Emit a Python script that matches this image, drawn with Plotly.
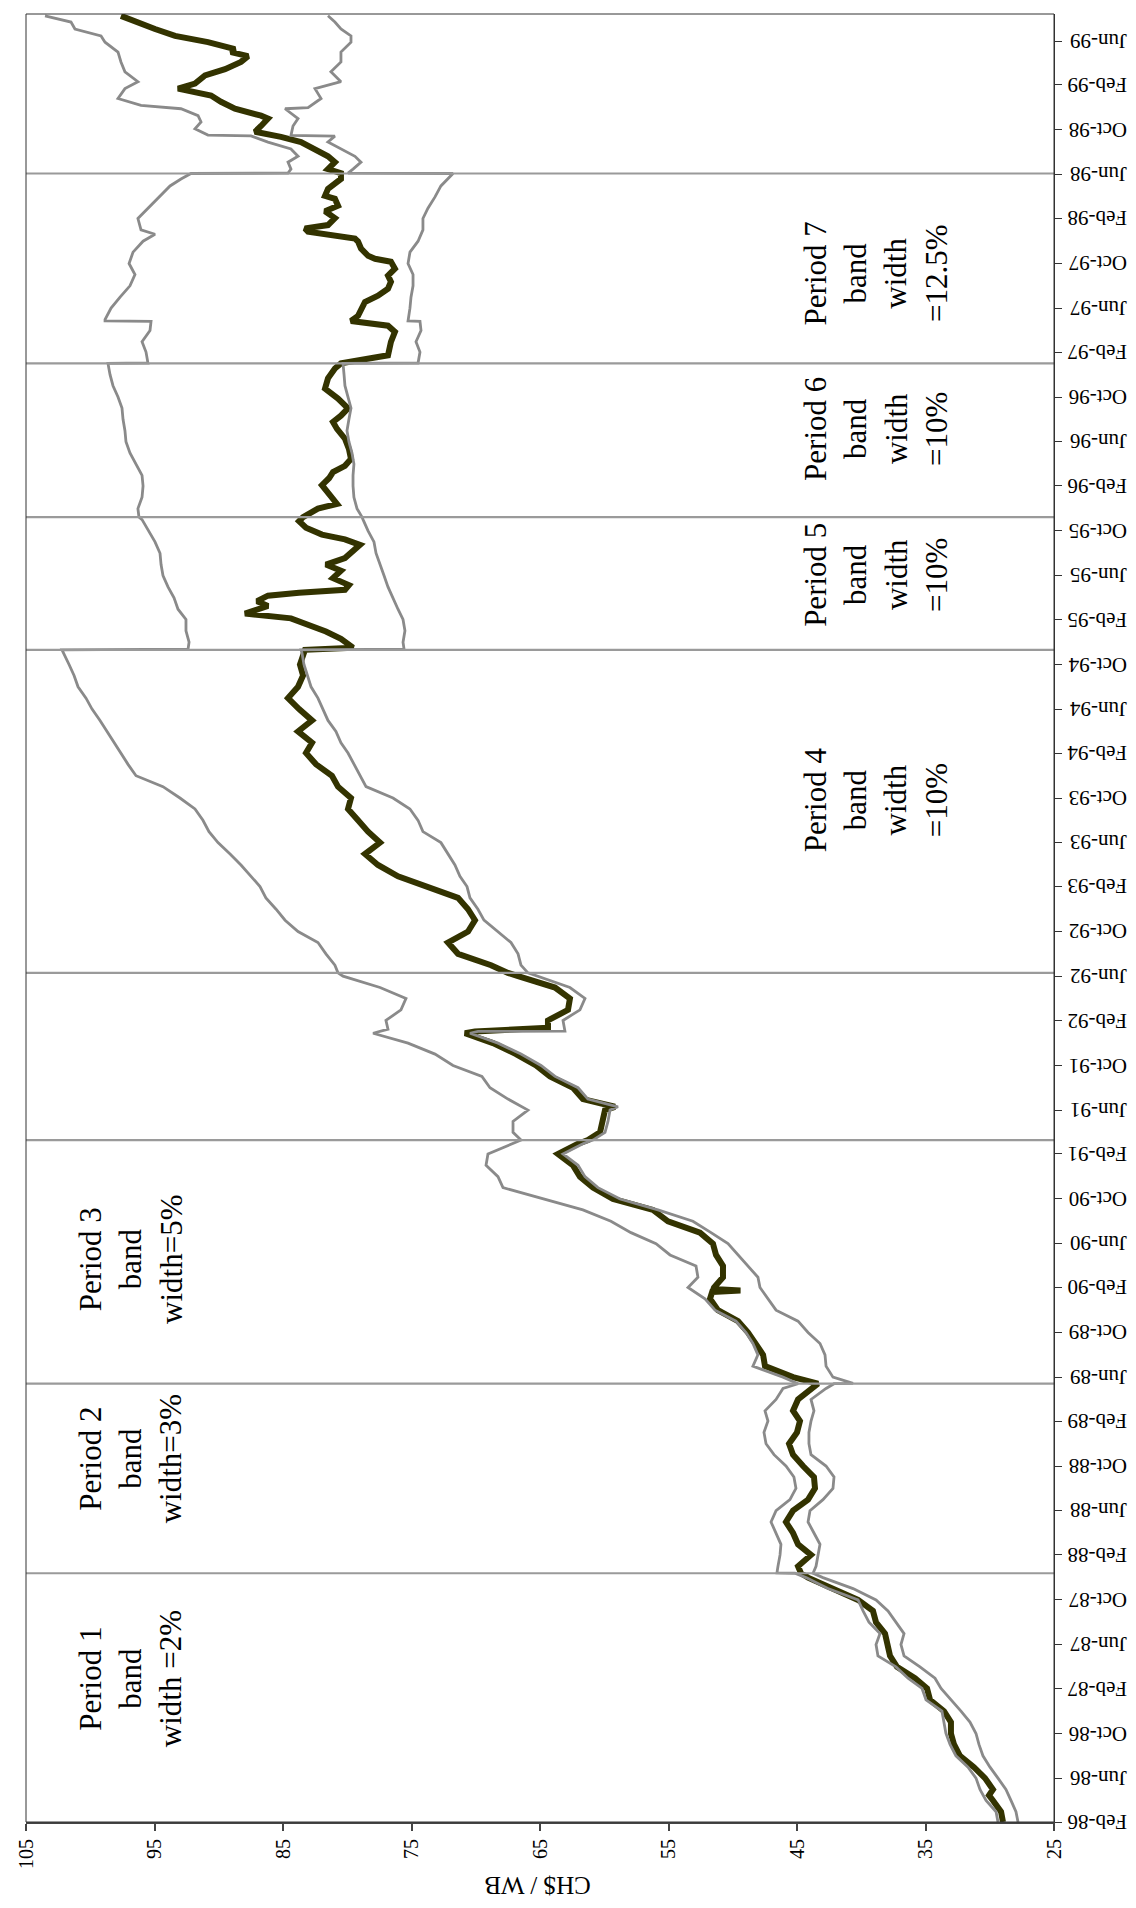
import pandas as pd
import plotly.graph_objects as go

# ---------------- data ----------------
# observed exchange rate (thick dark line): (date, CH$/WB)
center = [
    ("1986-02-01", 28.97), ("1986-03-01", 29.12), ("1986-04-01", 29.75), ("1986-04-15", 30.06),
    ("1986-05-01", 29.75), ("1986-06-01", 30.37), ("1986-07-01", 31.23), ("1986-08-01", 32.32),
    ("1986-09-01", 32.78), ("1986-10-01", 33.02), ("1986-11-01", 33.02), ("1986-12-01", 33.56),
    ("1987-01-01", 34.65), ("1987-02-01", 34.88), ("1987-03-01", 35.82), ("1987-04-01", 37.22),
    ("1987-05-01", 37.76), ("1987-06-01", 37.92), ("1987-07-01", 38.15), ("1987-08-01", 38.85),
    ("1987-09-01", 39.09), ("1987-10-01", 40.25), ("1987-11-01", 42.35), ("1987-12-01", 44.14),
    ("1987-12-13", 44.69), ("1988-01-01", 44.92), ("1988-02-01", 43.91), ("1988-03-01", 44.92),
    ("1988-04-01", 45.31), ("1988-05-01", 45.86), ("1988-06-01", 45.31), ("1988-07-01", 44.14),
    ("1988-08-01", 43.60), ("1988-09-01", 43.68), ("1988-10-01", 44.53), ("1988-11-01", 45.31),
    ("1988-12-01", 45.62), ("1989-01-01", 45.00), ("1989-02-01", 44.77), ("1989-03-01", 45.31),
    ("1989-04-01", 44.92), ("1989-05-01", 43.91), ("1989-05-14", 43.37), ("1989-06-01", 45.31),
    ("1989-07-01", 47.49), ("1989-08-01", 47.64), ("1989-09-01", 48.19), ("1989-10-01", 48.81),
    ("1989-11-01", 49.59), ("1989-12-01", 51.15), ("1990-01-01", 51.77), ("1990-01-20", 51.60),
    ("1990-01-24", 49.40), ("1990-01-28", 51.50), ("1990-02-01", 51.46), ("1990-03-01", 50.76),
    ("1990-04-01", 50.76), ("1990-05-01", 51.30), ("1990-06-01", 51.54), ("1990-07-01", 52.55),
    ("1990-08-01", 55.04), ("1990-09-01", 56.21), ("1990-10-01", 59.32), ("1990-11-01", 60.88),
    ("1990-12-01", 61.89), ("1991-01-01", 62.43), ("1991-02-01", 63.60), ("1991-03-01", 62.04),
    ("1991-03-11", 61.27), ("1991-04-01", 60.33), ("1991-05-01", 60.10), ("1991-06-01", 59.94),
    ("1991-06-10", 59.17), ("1991-07-01", 61.66), ("1991-08-01", 62.43), ("1991-09-01", 64.22),
    ("1991-10-01", 65.31), ("1991-11-01", 66.87), ("1991-12-01", 68.66), ("1991-12-28", 70.84),
    ("1992-01-02", 70.06), ("1992-01-06", 66.48), ("1992-01-12", 64.38), ("1992-02-01", 64.38),
    ("1992-03-01", 62.82), ("1992-04-01", 62.67), ("1992-05-01", 63.83), ("1992-06-01", 66.71),
    ("1992-06-10", 67.49), ("1992-07-01", 68.81), ("1992-08-01", 71.38), ("1992-09-01", 72.16),
    ("1992-10-01", 70.60), ("1992-11-01", 70.06), ("1992-12-01", 70.60), ("1993-01-01", 71.38),
    ("1993-02-01", 73.72), ("1993-03-01", 76.05), ("1993-04-01", 77.61), ("1993-05-01", 78.62),
    ("1993-06-01", 77.45), ("1993-07-01", 78.38), ("1993-08-01", 79.16), ("1993-09-01", 79.94),
    ("1993-10-01", 79.71), ("1993-11-01", 80.72), ("1993-12-01", 81.19), ("1994-01-01", 82.43),
    ("1994-02-01", 83.21), ("1994-03-01", 82.74), ("1994-04-01", 83.83), ("1994-05-01", 82.74),
    ("1994-06-01", 83.75), ("1994-07-01", 84.61), ("1994-08-01", 83.83), ("1994-09-01", 83.44),
    ("1994-10-01", 83.68), ("1994-11-01", 83.37), ("1994-11-10", 83.29), ("1994-11-16", 79.55),
    ("1994-12-10", 80.49), ("1994-12-30", 81.66), ("1995-01-16", 82.90), ("1995-02-04", 84.38),
    ("1995-02-17", 87.96), ("1995-03-01", 86.71), ("1995-03-10", 86.17), ("1995-03-23", 87.02),
    ("1995-04-07", 86.17), ("1995-04-15", 83.75), ("1995-04-23", 80.18), ("1995-05-06", 79.87),
    ("1995-05-25", 81.11), ("1995-06-14", 80.49), ("1995-07-01", 81.66), ("1995-07-19", 80.18),
    ("1995-08-07", 79.63), ("1995-08-24", 79.01), ("1995-09-08", 80.18), ("1995-09-21", 81.97),
    ("1995-10-10", 83.21), ("1995-10-28", 83.75), ("1995-11-08", 83.44), ("1995-12-01", 82.28),
    ("1995-12-14", 80.80), ("1995-12-28", 81.11), ("1996-01-16", 81.66), ("1996-02-03", 81.97),
    ("1996-02-22", 81.42), ("1996-03-10", 81.11), ("1996-03-27", 80.18), ("1996-04-15", 79.71),
    ("1996-05-12", 79.87), ("1996-06-09", 80.18), ("1996-07-06", 80.80), ("1996-07-25", 81.11),
    ("1996-08-11", 80.49), ("1996-08-31", 79.94), ("1996-09-27", 80.72), ("1996-10-24", 81.73),
    ("1996-11-21", 81.50), ("1996-12-18", 80.96), ("1997-01-01", 80.49), ("1997-01-15", 78.38),
    ("1997-01-23", 76.83), ("1997-03-01", 76.60), ("1997-03-28", 76.29), ("1997-04-14", 76.83),
    ("1997-04-27", 79.71), ("1997-05-11", 79.16), ("1997-05-30", 78.93), ("1997-06-18", 78.62),
    ("1997-07-05", 77.61), ("1997-07-24", 76.83), ("1997-08-12", 76.60), ("1997-08-29", 76.83),
    ("1997-09-17", 76.29), ("1997-10-06", 76.60), ("1997-10-14", 77.84), ("1997-10-22", 78.38),
    ("1997-11-11", 78.93), ("1997-11-30", 79.16), ("1997-12-08", 79.40), ("1997-12-27", 83.05),
    ("1998-01-05", 83.29), ("1998-01-14", 81.50), ("1998-02-02", 80.96), ("1998-02-21", 81.73),
    ("1998-03-08", 80.72), ("1998-03-27", 80.96), ("1998-04-04", 81.73), ("1998-04-23", 81.50),
    ("1998-05-20", 80.49), ("1998-06-05", 80.49), ("1998-06-16", 81.50), ("1998-07-05", 80.96),
    ("1998-07-21", 81.50), ("1998-08-10", 82.51), ("1998-08-29", 83.60), ("1998-09-12", 85.16),
    ("1998-09-26", 87.18), ("1998-10-12", 86.71), ("1998-11-01", 86.17), ("1998-11-09", 86.71),
    ("1998-11-28", 88.74), ("1998-12-17", 89.83), ("1999-01-03", 90.60), ("1999-01-22", 93.17),
    ("1999-02-05", 91.85), ("1999-02-27", 91.07), ("1999-03-16", 89.51), ("1999-04-05", 88.27),
    ("1999-04-21", 87.72), ("1999-05-02", 89.05), ("1999-05-10", 88.74), ("1999-05-29", 90.84),
    ("1999-06-15", 93.40), ("1999-07-04", 94.96), ("1999-07-23", 96.52), ("1999-08-09", 97.61),
]

# band ceiling (grey line, higher CH$/WB)
upper = [
    ("1986-02-01", 29.36), ("1986-03-01", 29.51), ("1986-04-01", 30.29), ("1986-05-01", 30.76),
    ("1986-06-01", 31.07), ("1986-07-01", 31.69), ("1986-08-01", 32.63), ("1986-09-01", 33.09),
    ("1986-10-01", 33.41), ("1986-11-01", 33.56), ("1986-12-01", 33.72), ("1987-01-01", 34.96),
    ("1987-02-01", 35.27), ("1987-03-01", 36.36), ("1987-04-01", 37.30), ("1987-05-01", 38.70),
    ("1987-06-01", 38.85), ("1987-07-01", 38.54), ("1987-08-01", 39.40), ("1987-09-01", 39.86),
    ("1987-10-01", 40.25), ("1987-11-01", 42.59), ("1987-12-01", 44.30), ("1987-12-13", 45.16),
    ("1987-12-14", 46.56), ("1988-01-01", 46.48), ("1988-02-01", 46.32), ("1988-03-01", 46.25),
    ("1988-04-01", 46.63), ("1988-05-01", 47.02), ("1988-06-01", 46.63), ("1988-07-01", 45.55),
    ("1988-08-01", 45.08), ("1988-09-01", 45.24), ("1988-10-01", 45.86), ("1988-11-01", 46.79),
    ("1988-12-01", 47.41), ("1989-01-01", 47.57), ("1989-02-01", 47.26), ("1989-03-01", 47.49),
    ("1989-04-01", 46.63), ("1989-05-01", 46.09), ("1989-05-14", 44.92), ("1989-06-01", 46.09),
    ("1989-07-01", 48.43), ("1989-08-01", 48.04), ("1989-09-01", 48.43), ("1989-10-01", 48.97),
    ("1989-11-01", 49.75), ("1989-12-01", 51.38), ("1990-01-01", 52.16), ("1990-02-01", 53.48),
    ("1990-03-01", 52.71), ("1990-04-01", 52.86), ("1990-05-01", 54.88), ("1990-06-01", 55.97),
    ("1990-07-01", 57.92), ("1990-08-01", 59.48), ("1990-09-01", 61.66), ("1990-10-01", 64.77),
    ("1990-11-01", 67.88), ("1990-12-01", 68.27), ("1991-01-01", 69.20), ("1991-02-01", 69.05),
    ("1991-03-01", 67.10), ("1991-03-11", 66.48), ("1991-04-01", 67.10), ("1991-05-01", 67.10),
    ("1991-06-01", 65.94), ("1991-07-01", 67.49), ("1991-08-01", 68.89), ("1991-09-01", 69.52),
    ("1991-10-01", 71.77), ("1991-11-01", 73.17), ("1991-12-01", 75.27), ("1991-12-28", 77.99),
    ("1992-01-08", 76.83), ("1992-02-01", 76.99), ("1992-03-01", 75.82), ("1992-04-01", 75.43),
    ("1992-05-01", 77.45), ("1992-06-01", 80.33), ("1992-06-10", 80.72), ("1992-07-01", 80.96),
    ("1992-08-01", 81.66), ("1992-09-01", 82.28), ("1992-10-01", 83.83), ("1992-11-01", 84.84),
    ("1992-12-01", 85.54), ("1993-01-01", 86.33), ("1993-02-01", 86.79), ("1993-03-01", 87.49),
    ("1993-04-01", 88.27), ("1993-05-01", 89.12), ("1993-06-01", 90.06), ("1993-07-01", 90.76),
    ("1993-08-01", 91.23), ("1993-09-01", 91.85), ("1993-10-01", 93.02), ("1993-11-01", 94.34),
    ("1993-12-01", 96.44), ("1994-01-01", 97.06), ("1994-02-01", 97.61), ("1994-03-01", 98.15),
    ("1994-04-01", 98.70), ("1994-05-01", 99.24), ("1994-06-01", 99.86), ("1994-07-01", 100.33),
    ("1994-08-01", 100.95), ("1994-09-01", 101.26), ("1994-10-01", 101.65), ("1994-11-01", 102.12),
    ("1994-11-10", 102.20), ("1994-11-12", 92.39), ("1994-12-01", 92.31), ("1995-01-01", 92.55),
    ("1995-02-01", 92.55), ("1995-03-01", 93.17), ("1995-04-01", 93.48), ("1995-05-01", 93.95),
    ("1995-06-01", 94.34), ("1995-07-01", 94.49), ("1995-08-01", 94.57), ("1995-09-01", 94.96),
    ("1995-10-01", 95.43), ("1995-11-01", 95.97), ("1995-11-08", 96.21), ("1995-12-01", 96.29),
    ("1996-01-01", 95.97), ("1996-02-01", 95.89), ("1996-03-01", 95.97), ("1996-04-01", 96.44),
    ("1996-05-01", 96.91), ("1996-06-01", 97.22), ("1996-07-01", 97.30), ("1996-08-01", 97.45),
    ("1996-09-01", 97.53), ("1996-10-01", 97.84), ("1996-11-01", 98.23), ("1996-12-01", 98.46),
    ("1997-01-01", 98.62), ("1997-01-02", 95.51), ("1997-02-01", 95.66), ("1997-03-01", 95.97),
    ("1997-04-01", 95.35), ("1997-04-26", 95.27), ("1997-04-27", 98.85), ("1997-05-01", 98.85),
    ("1997-06-01", 98.38), ("1997-07-01", 97.68), ("1997-08-01", 96.91), ("1997-09-01", 96.52),
    ("1997-10-01", 96.98), ("1997-11-01", 96.67), ("1997-12-01", 95.89), ("1997-12-20", 94.96),
    ("1998-01-01", 96.05), ("1998-02-01", 96.29), ("1998-03-01", 95.51), ("1998-04-01", 94.57),
    ("1998-05-01", 93.79), ("1998-05-20", 92.94), ("1998-06-04", 92.16), ("1998-06-05", 84.61),
    ("1998-06-16", 84.38), ("1998-07-05", 84.61), ("1998-07-21", 83.83), ("1998-08-10", 84.38),
    ("1998-08-29", 86.17), ("1998-09-15", 87.49), ("1998-09-17", 90.84), ("1998-10-04", 91.85),
    ("1998-10-23", 91.38), ("1998-11-09", 91.61), ("1998-11-28", 92.94), ("1998-12-07", 96.05),
    ("1998-12-26", 97.84), ("1999-01-22", 97.30), ("1999-02-10", 96.29), ("1999-03-09", 97.30),
    ("1999-04-05", 97.61), ("1999-05-02", 97.84), ("1999-05-29", 98.85), ("1999-06-15", 99.16),
    ("1999-07-04", 101.19), ("1999-07-23", 101.50), ("1999-08-09", 103.52),
]

# band floor (grey line, lower CH$/WB)
lower = [
    ("1986-02-01", 27.80), ("1986-03-01", 27.96), ("1986-04-01", 28.35), ("1986-05-01", 28.74),
    ("1986-06-01", 29.36), ("1986-07-01", 29.98), ("1986-08-01", 30.53), ("1986-09-01", 30.84),
    ("1986-10-01", 31.07), ("1986-11-01", 31.54), ("1986-12-01", 32.24), ("1987-01-01", 33.02),
    ("1987-02-01", 33.79), ("1987-03-01", 34.26), ("1987-04-01", 35.43), ("1987-05-01", 36.67),
    ("1987-06-01", 36.91), ("1987-07-01", 36.67), ("1987-08-01", 37.30), ("1987-09-01", 37.92),
    ("1987-10-01", 38.85), ("1987-11-01", 40.64), ("1987-12-01", 42.98), ("1987-12-13", 43.75),
    ("1988-01-01", 43.52), ("1988-02-01", 43.37), ("1988-03-01", 43.21), ("1988-04-01", 43.68),
    ("1988-05-01", 44.14), ("1988-06-01", 43.99), ("1988-07-01", 42.98), ("1988-08-01", 42.20),
    ("1988-09-01", 42.12), ("1988-10-01", 42.74), ("1988-11-01", 43.91), ("1988-12-01", 44.07),
    ("1989-01-01", 44.07), ("1989-02-01", 43.91), ("1989-03-01", 43.68), ("1989-04-01", 43.91),
    ("1989-05-01", 42.74), ("1989-05-14", 42.12), ("1989-05-15", 40.64), ("1989-06-01", 42.20),
    ("1989-07-01", 42.74), ("1989-08-01", 42.82), ("1989-09-01", 43.21), ("1989-10-01", 44.14),
    ("1989-11-01", 44.92), ("1989-12-01", 46.63), ("1990-01-01", 47.26), ("1990-02-01", 47.88),
    ("1990-03-01", 48.04), ("1990-04-01", 48.81), ("1990-05-01", 49.59), ("1990-06-01", 50.37),
    ("1990-07-01", 51.69), ("1990-08-01", 53.10), ("1990-09-01", 55.82), ("1990-10-01", 58.77),
    ("1990-11-01", 60.49), ("1990-12-01", 61.50), ("1991-01-01", 62.04), ("1991-02-01", 63.21),
    ("1991-03-01", 61.66), ("1991-03-11", 60.88), ("1991-04-01", 59.94), ("1991-05-01", 59.71),
    ("1991-06-01", 59.55), ("1991-06-10", 58.93), ("1991-07-01", 61.27), ("1991-08-01", 62.04),
    ("1991-09-01", 63.83), ("1991-10-01", 64.92), ("1991-11-01", 66.48), ("1991-12-01", 68.27),
    ("1991-12-28", 70.45), ("1992-01-02", 69.83), ("1992-01-03", 63.06), ("1992-02-01", 63.21),
    ("1992-03-01", 61.89), ("1992-04-01", 61.50), ("1992-05-01", 62.67), ("1992-06-01", 65.31),
    ("1992-06-10", 65.94), ("1992-07-01", 66.48), ("1992-08-01", 66.71), ("1992-09-01", 67.26),
    ("1992-10-01", 68.27), ("1992-11-01", 69.36), ("1992-12-01", 69.83), ("1993-01-01", 70.45),
    ("1993-02-01", 70.68), ("1993-03-01", 71.23), ("1993-04-01", 71.62), ("1993-05-01", 72.16),
    ("1993-06-01", 72.71), ("1993-07-01", 74.11), ("1993-08-01", 74.49), ("1993-09-01", 75.12),
    ("1993-10-01", 76.44), ("1993-11-01", 78.54), ("1993-12-01", 79.01), ("1994-01-01", 79.48),
    ("1994-02-01", 79.94), ("1994-03-01", 80.49), ("1994-04-01", 80.88), ("1994-05-01", 81.50),
    ("1994-06-01", 81.89), ("1994-07-01", 82.28), ("1994-08-01", 82.82), ("1994-09-01", 83.13),
    ("1994-10-01", 83.37), ("1994-11-01", 83.52), ("1994-11-10", 83.60), ("1994-11-12", 75.58),
    ("1994-12-01", 75.66), ("1995-01-01", 75.51), ("1995-02-01", 75.66), ("1995-03-01", 76.05),
    ("1995-04-01", 76.44), ("1995-05-01", 76.83), ("1995-06-01", 77.14), ("1995-07-01", 77.45),
    ("1995-08-01", 77.76), ("1995-09-01", 77.92), ("1995-10-01", 78.38), ("1995-11-01", 78.77),
    ("1995-11-08", 78.85), ("1995-12-01", 79.24), ("1996-01-01", 79.48), ("1996-02-01", 79.55),
    ("1996-03-01", 79.55), ("1996-04-01", 79.48), ("1996-05-01", 79.63), ("1996-06-01", 79.87),
    ("1996-07-01", 80.02), ("1996-08-01", 79.87), ("1996-09-01", 79.71), ("1996-10-01", 79.94),
    ("1996-11-01", 80.18), ("1996-12-01", 80.25), ("1997-01-01", 80.33), ("1997-01-02", 74.49),
    ("1997-02-01", 74.34), ("1997-03-01", 74.65), ("1997-04-01", 74.26), ("1997-04-26", 74.34),
    ("1997-04-27", 75.27), ("1997-06-01", 75.12), ("1997-07-01", 75.04), ("1997-08-01", 74.88),
    ("1997-09-01", 74.88), ("1997-10-01", 75.27), ("1997-11-01", 75.12), ("1997-12-01", 74.49),
    ("1998-01-01", 74.11), ("1998-02-01", 74.11), ("1998-03-01", 73.72), ("1998-04-01", 73.17),
    ("1998-05-01", 72.71), ("1998-06-04", 71.77), ("1998-06-05", 79.94), ("1998-06-16", 79.55),
    ("1998-07-05", 78.93), ("1998-07-21", 79.40), ("1998-08-10", 80.49), ("1998-08-29", 81.50),
    ("1998-09-14", 80.96), ("1998-09-16", 84.38), ("1998-10-12", 84.22), ("1998-11-01", 83.83),
    ("1998-11-28", 84.84), ("1998-12-01", 83.05), ("1998-12-26", 82.04), ("1999-01-22", 82.51),
    ("1999-02-10", 80.49), ("1999-03-09", 81.27), ("1999-04-05", 80.49), ("1999-05-02", 80.49),
    ("1999-05-29", 79.71), ("1999-06-15", 79.71), ("1999-07-04", 80.49), ("1999-07-23", 80.96),
    ("1999-08-09", 81.50),
]

# dates where the band regime changes (grey separator lines)
period_breaks = ["1987-12-13", "1989-05-14", "1991-03-11", "1992-06-10",
                 "1994-11-10", "1995-11-08", "1997-01-01", "1998-06-04"]

period_texts = [
    "Period 1<br>band<br>width =2%",
    "Period 2<br>band<br>width=3%",
    "Period 3<br>band<br>width=5%",
    "Period 4<br>band<br>width<br>=10%",
    "Period 5<br>band<br>width<br>=10%",
    "Period 6<br>band<br>width<br>=10%",
    "Period 7<br>band<br>width<br>=12.5%",
]
period_text_dates = ["1987-03-01", "1988-10-22", "1990-04-20", "1993-09-25",
                     "1995-06-03", "1996-07-06", "1997-09-04"]
period_text_values = [96.83, 96.83, 96.83, 38.85, 38.85, 38.85, 38.85]

value_ticks = [105, 95, 85, 75, 65, 55, 45, 35, 25]
value_title = "CH$ / WB"

# date axis ticks every four months (Feb, Jun, Oct) with "Feb-86" style labels
date_ticks = pd.date_range("1986-02-01", "1999-06-01", freq="4MS")
date_tick_labels = [d.strftime("%b-%y") for d in date_ticks]

# ---------------- figure ----------------
FONT = "Liberation Serif, Times New Roman, serif"
fig = go.Figure()

series_styles = [
    (center, "#333300", 6.0),
    (upper, "#8a8a8a", 2.8),
    (lower, "#8a8a8a", 2.8),
]
for data, color, width in series_styles:
    d, v = zip(*data)
    fig.add_trace(go.Scatter(x=list(v), y=list(d), mode="lines",
                             line=dict(color=color, width=width),
                             hoverinfo="skip", showlegend=False))

shapes = []
for b in period_breaks:
    shapes.append(dict(type="line", xref="paper", yref="y", x0=0, x1=1, y0=b, y1=b,
                       line=dict(color="#9a9a9a", width=2.2), layer="above"))
shapes.append(dict(type="rect", xref="paper", yref="paper", x0=0, x1=1, y0=0, y1=1,
                   line=dict(color="#333333", width=1)))

annotations = []
for txt, d, v in zip(period_texts, period_text_dates, period_text_values):
    annotations.append(dict(x=v, y=d, xref="x", yref="y", text=txt, showarrow=False,
                            textangle=-90, font=dict(family=FONT, size=31, color="black"),
                            align="center"))
annotations.append(dict(x=0.497, y=-0.0437, xref="paper", yref="paper", text=value_title,
                        showarrow=False, textangle=180,
                        font=dict(family=FONT, size=25, color="black")))
# upside-down date labels to the right of the date axis
for d, lab in zip(date_ticks, date_tick_labels):
    annotations.append(dict(x=1.0730, y=d, xref="paper", yref="y", text=lab,
                            showarrow=False, textangle=180, xanchor="right", yanchor="middle",
                            font=dict(family=FONT, size=21, color="black")))

fig.update_layout(
    width=1136, height=1908,
    margin=dict(l=18, r=90, t=6, b=94, autoexpand=False),
    paper_bgcolor="white", plot_bgcolor="white",
    shapes=shapes, annotations=annotations,
    font=dict(family=FONT, color="black"),
    xaxis=dict(range=[105, 25], tickvals=value_ticks, tickangle=-90, automargin=False,
               ticks="outside", ticklen=7, tickwidth=1.5, tickcolor="#444444",
               showline=True, linecolor="#444444", linewidth=2,
               showgrid=False, zeroline=False,
               tickfont=dict(family=FONT, size=20, color="black")),
    yaxis=dict(type="date", range=["1986-02-01", "1999-08-14"], side="right", automargin=False,
               tickvals=list(date_ticks), showticklabels=False,
               ticks="outside", ticklen=7, tickwidth=1, tickcolor="#333333",
               showline=True, linecolor="#333333", linewidth=1,
               showgrid=False, zeroline=False),
)

fig.write_html("out.html")
